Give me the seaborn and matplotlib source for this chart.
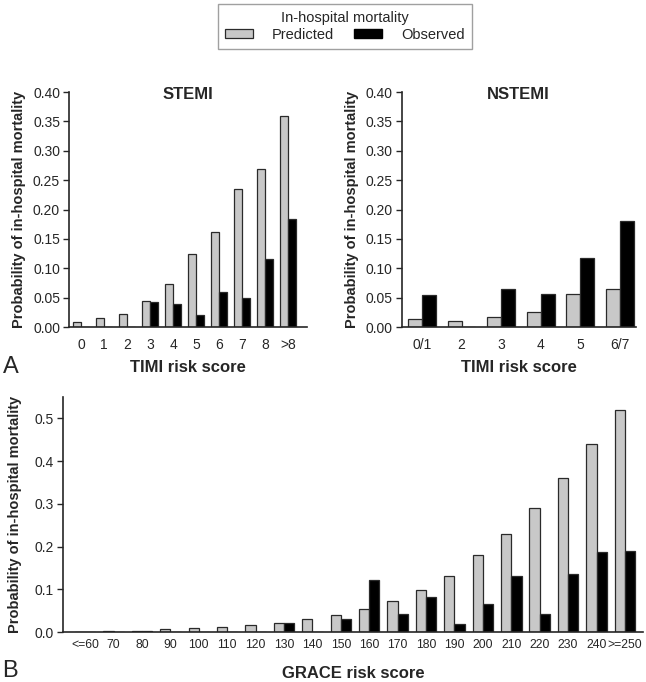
import matplotlib
matplotlib.use("Agg")
import matplotlib.pyplot as plt
from matplotlib.patches import Patch
import numpy as np
import pandas as pd
import seaborn as sns

# STEMI (TIMI risk score)
stemi_scores = ["0", "1", "2", "3", "4", "5", "6", "7", "8", ">8"]
stemi_predicted = [0.008, 0.016, 0.022, 0.045, 0.073, 0.125, 0.162, 0.235, 0.269, 0.360]
stemi_observed = [0.0, 0.0, 0.0, 0.043, 0.039, 0.020, 0.060, 0.049, 0.115, 0.183]

# NSTEMI (TIMI risk score)
nstemi_scores = ["0/1", "2", "3", "4", "5", "6/7"]
nstemi_predicted = [0.013, 0.010, 0.017, 0.025, 0.057, 0.065]
nstemi_observed = [0.054, 0.0, 0.065, 0.057, 0.117, 0.180]

# GRACE risk score
grace_scores = ["<=60", "70", "80", "90", "100", "110", "120", "130", "140", "150",
                "160", "170", "180", "190", "200", "210", "220", "230", "240", ">=250"]
grace_predicted = [0.0, 0.002, 0.003, 0.006, 0.009, 0.011, 0.016, 0.020, 0.030, 0.039,
                   0.054, 0.073, 0.098, 0.130, 0.180, 0.230, 0.290, 0.360, 0.440, 0.520]
grace_observed = [0.0, 0.0, 0.002, 0.0, 0.0, 0.0, 0.0, 0.022, 0.0, 0.031,
                  0.122, 0.043, 0.082, 0.019, 0.065, 0.132, 0.041, 0.136, 0.188, 0.189]

PRED_COLOR = "#c8c8c8"
OBS_COLOR = "#000000"


def to_long(scores, predicted, observed):
    df = pd.DataFrame({"score": scores, "Predicted": predicted, "Observed": observed})
    return df.melt(id_vars="score", var_name="series", value_name="prob")


def draw_panel(ax, scores, predicted, observed, width):
    df = to_long(scores, predicted, observed)
    sns.barplot(data=df, x="score", y="prob", hue="series", order=scores,
                hue_order=["Predicted", "Observed"],
                palette={"Predicted": PRED_COLOR, "Observed": OBS_COLOR},
                width=width, edgecolor="#2a2a2a", linewidth=0.9,
                legend=False, ax=ax)
    ax.spines["top"].set_visible(False)
    ax.spines["right"].set_visible(False)
    ax.spines["left"].set_linewidth(1.2)
    ax.spines["bottom"].set_linewidth(1.2)
    ax.tick_params(axis="x", length=0, pad=8)
    ax.tick_params(axis="y", length=4.5, width=1, pad=2)


sns.set_style("ticks")
plt.rcParams["font.family"] = ["Liberation Sans", "DejaVu Sans"]

fig = plt.figure(figsize=(6.46, 6.82), dpi=100)
ax1 = fig.add_axes([0.107, 0.5205, 0.368, 0.3446])
ax2 = fig.add_axes([0.622, 0.5205, 0.362, 0.3446])
ax3 = fig.add_axes([0.0975, 0.0733, 0.898, 0.3446])

draw_panel(ax1, stemi_scores, stemi_predicted, stemi_observed, 0.7)
draw_panel(ax2, nstemi_scores, nstemi_predicted, nstemi_observed, 0.7)
draw_panel(ax3, grace_scores, grace_predicted, grace_observed, 0.72)

ylab = "Probability of in-hospital mortality"
for ax, title in [(ax1, "STEMI"), (ax2, "NSTEMI")]:
    ax.set_ylim(0, 0.40)
    ax.set_yticks(np.arange(0, 0.401, 0.05))
    ax.set_yticklabels([f"{v:.2f}" for v in np.arange(0, 0.401, 0.05)], fontsize=10)
    ax.set_xticklabels(ax.get_xticklabels(), fontsize=10)
    ax.set_ylabel(ylab, fontsize=10.5, fontweight="bold", labelpad=5)
    ax.set_xlabel("TIMI risk score", fontsize=12, fontweight="bold", labelpad=6)
    ax.set_title(title, fontsize=12, fontweight="bold", y=0.935)

ax1.set_xlim(-0.52, 9.8)
ax2.set_xlim(-0.51, 5.4)

ax3.set_ylim(0, 0.55)
ax3.set_xlim(-0.78, 19.64)
ax3.set_yticks(np.arange(0, 0.51, 0.1))
ax3.set_yticklabels([f"{v:.1f}" for v in np.arange(0, 0.51, 0.1)], fontsize=10)
ax3.set_xticklabels(ax3.get_xticklabels(), fontsize=8.8)
ax3.tick_params(axis="x", pad=5)
ax3.set_ylabel(ylab, fontsize=10.5, fontweight="bold", labelpad=9)
ax3.set_xlabel("GRACE risk score", fontsize=12, fontweight="bold", labelpad=11)

fig.text(0.004, 0.462, "A", fontsize=17, ha="left", va="center")
fig.text(0.004, 0.016, "B", fontsize=17, ha="left", va="center")

handles = [Patch(facecolor=PRED_COLOR, edgecolor="#2a2a2a", linewidth=0.9, label="Predicted"),
           Patch(facecolor=OBS_COLOR, edgecolor=OBS_COLOR, label="Observed")]
leg = fig.legend(handles=handles, loc="upper center", bbox_to_anchor=(0.534, 0.997), ncol=2,
                 title="In-hospital mortality", title_fontsize=10.5, fontsize=10.5,
                 frameon=True, fancybox=False, edgecolor="#888888",
                 handlelength=1.9, handleheight=0.5, columnspacing=1.4,
                 borderpad=0.5, handletextpad=1.3, labelspacing=0.2,
                 borderaxespad=0.1)
leg.get_frame().set_linewidth(1.0)

fig.savefig("out.png", dpi=100)
